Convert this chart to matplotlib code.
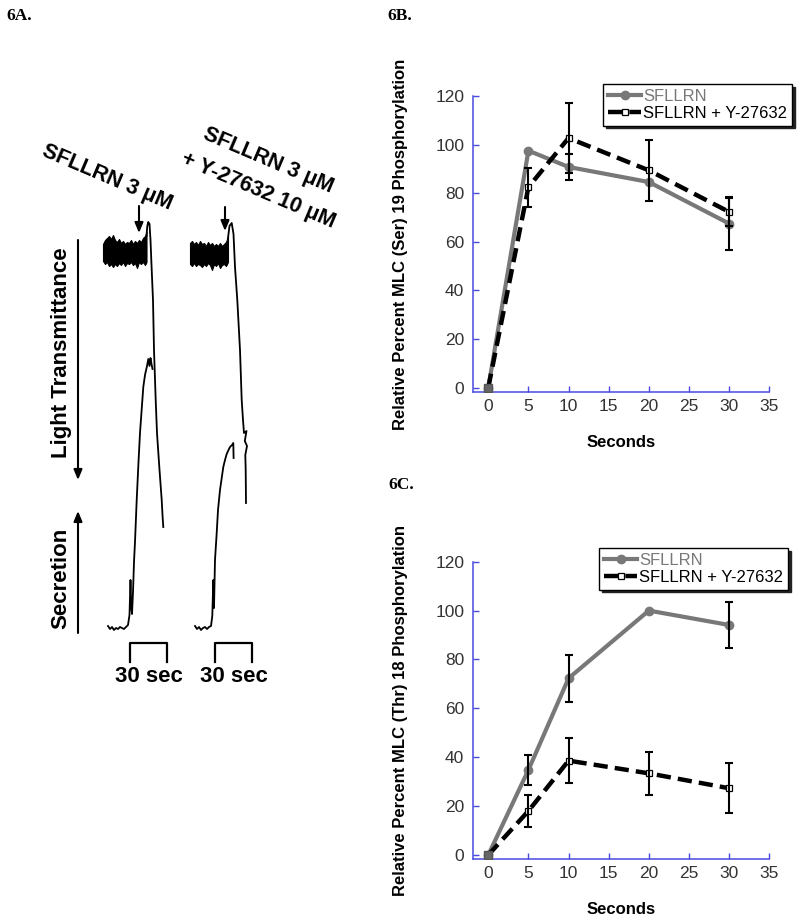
import matplotlib
matplotlib.use("Agg")
import matplotlib.pyplot as plt
import numpy as np

plt.rcParams['font.family'] = ['Liberation Sans', 'DejaVu Sans']

W, H = 800, 917

# ---- panel B / C data ----
seconds = [0, 5, 10, 20, 30]
ser_sfllrn = [0, 97.5, 90.8, 84.6, 67.5]
ser_sfllrn_err = [0, 0, 5.5, 0, 11]
ser_y27632 = [0, 82.5, 102.7, 89.4, 72.3]
ser_y27632_err = [0, 8, 14.3, 12.5, 5.6]

thr_sfllrn = [0, 34.8, 72.3, 100, 94.1]
thr_sfllrn_err = [0, 6, 9.7, 0, 9.3]
thr_y27632 = [0, 18, 38.6, 33.4, 27.3]
thr_y27632_err = [0, 6.7, 9.2, 8.8, 10.3]

x_ticks = [0, 5, 10, 15, 20, 25, 30, 35]
y_ticks = [0, 20, 40, 60, 80, 100, 120]

left_base_x = [103, 105, 107, 109, 111, 113, 115, 117, 119, 121, 123, 125, 127, 129,
               131, 133, 135, 137, 139, 141, 143, 145, 146.5]
left_base_top = [244, 240, 238, 236, 239, 235, 240, 242, 239, 243, 241, 244, 242, 243,
                 240, 244, 241, 243, 240, 242, 238, 236, 232]
left_base_bot = [261, 264, 262, 266, 264, 267, 264, 266, 263, 265, 262, 266, 263, 264,
                 262, 265, 263, 268, 262, 264, 262, 265, 262]
left_agg_x = [146.5, 147.3, 148.3, 149.5, 150.5, 151.5, 153, 154, 155.7, 157, 159.3,
              161.7, 162.5, 163.3]
left_agg_y = [236, 226, 222, 224, 240, 265, 300, 350, 400, 433, 467, 500, 515, 527]
left_sec_x = [108, 110, 112, 114, 116, 118, 120, 122, 124, 126, 128, 129.5, 130.5, 131.2,
              132, 133, 134, 135, 136.7, 138.5, 140, 142, 143.3, 145, 147, 148.3, 149.5,
              150.5, 151.5, 152.5]
left_sec_y = [626, 629, 627, 630, 628, 629, 627, 628, 629, 627, 625, 615, 580, 606,
              614, 592, 562, 542, 500, 462, 433, 405, 387, 375, 366, 359, 366, 358, 364, 369]

right_base_x = [190, 192, 194, 196, 198, 200, 202, 204, 206, 208, 210, 212, 214, 216,
                218, 220, 222, 224, 226, 228]
right_base_top = [243, 241, 244, 242, 245, 241, 244, 243, 246, 242, 245, 243, 246, 244,
                  246, 243, 246, 244, 242, 236]
right_base_bot = [264, 266, 263, 266, 264, 265, 267, 264, 266, 263, 265, 270, 264, 266,
                  263, 268, 265, 264, 266, 262]
right_agg_x = [228, 229.5, 231.7, 233.5, 235, 237.3, 240, 241.7, 243, 244, 246.5, 244.8,
               247, 245.3, 245.7, 246]
right_agg_y = [238, 226, 223, 234, 267, 300, 350, 400, 420, 433, 431, 441, 446, 455,
               470, 503]
right_sec_x = [195, 197, 199, 201, 203, 205, 207, 209, 211, 212.3, 213.3, 214, 215,
               216.7, 218, 220, 222, 223.3, 225, 226.7, 228.5, 230, 232, 233.3, 233.6]
right_sec_y = [626, 629, 627, 630, 628, 627, 629, 627, 626, 616, 580, 608, 560, 533,
               510, 490, 476, 467, 460, 454, 450, 447, 445, 443, 458]

fig = plt.figure(figsize=(W / 100, H / 100), dpi=100)


def fx(px):
    return px / W


def fy(py):
    return 1 - py / H


# ================= panel A =================
axA = fig.add_axes([0, 0, 0.5, 1])
axA.set_xlim(0, 400)
axA.set_ylim(H, 0)
axA.axis('off')

for bx, bt, bb in [(left_base_x, left_base_top, left_base_bot),
                   (right_base_x, right_base_top, right_base_bot)]:
    axA.fill_between(bx, bt, bb, color='black', lw=0.8, edgecolor='black')
for tx, ty in [(left_agg_x, left_agg_y), (left_sec_x, left_sec_y),
               (right_agg_x, right_agg_y), (right_sec_x, right_sec_y)]:
    axA.plot(tx, ty, color='black', lw=1.3, solid_joinstyle='round')

arrow = dict(arrowstyle='-|>,head_length=0.6,head_width=0.25', color='black', lw=1.5,
             shrinkA=0, shrinkB=0)
# agonist addition arrows
axA.annotate('', xy=(139, 233), xytext=(139, 206), arrowprops=arrow)
axA.annotate('', xy=(225, 231), xytext=(225, 207), arrowprops=arrow)
# direction arrows
axA.annotate('', xy=(78, 480), xytext=(78, 240), arrowprops=arrow)
axA.annotate('', xy=(78, 511), xytext=(78, 633), arrowprops=arrow)

axA.text(61, 353, 'Light Transmittance', rotation=90, ha='center', va='center',
         fontsize=16, fontweight='bold')
axA.text(61, 578, 'Secretion', rotation=90, ha='center', va='center',
         fontsize=16, fontweight='bold')

lab_kw = dict(rotation=-23, rotation_mode='anchor', ha='center', va='center',
              fontsize=15.5, fontweight='bold')
axA.text(107, 178, 'SFLLRN 3 μM', **lab_kw)
axA.text(268, 161, 'SFLLRN 3 μM', **lab_kw)
axA.text(258, 191, '+ Y-27632 10 μM', **lab_kw)

# 30 sec scale brackets
for x0, x1 in [(130, 167), (215, 252)]:
    axA.plot([x0, x0, x1, x1], [662, 643, 643, 662], color='black', lw=1.6)
    axA.text((x0 + x1) / 2, 676, '30 sec', ha='center', va='center',
             fontsize=16, fontweight='bold')

serif_kw = dict(fontsize=12.5, fontweight='bold', family='Liberation Serif',
                va='center', ha='left')
fig.text(fx(6), fy(16), '6A.', **serif_kw)
fig.text(fx(387), fy(16), '6B.', **serif_kw)
fig.text(fx(388), fy(485), '6C.', **serif_kw)

# ================= panels B and C =================
blue = '#4a4ae0'
gray = '#787878'


def panel(rect, y1, e1, y2, e2, ylabel, ybottom, legend_pos):
    ax = fig.add_axes(rect)
    ax.plot(seconds, y1, color=gray, lw=3, marker='o', ms=6, mfc=gray, mec=gray,
            solid_joinstyle='round', label='SFLLRN', zorder=3)
    ax.plot(seconds, y2, color='black', lw=3.2, dashes=(3.2, 1.6), marker='s', ms=4.5,
            mfc='white', mec='black', mew=0.9, label='SFLLRN + Y-27632', zorder=4)
    # origin point drawn as grey filled square, as in the source figure
    ax.plot(seconds[:1], y1[:1], ls='none', marker='s', ms=6, mfc='#666666',
            mec='#555555', zorder=6)
    for ys, es in [(y1, e1), (y2, e2)]:
        xs = np.array(seconds, dtype=float)
        ys = np.array(ys, dtype=float)
        es = np.array(es, dtype=float)
        m = es > 0
        ax.errorbar(xs[m], ys[m], yerr=es[m], fmt='none', ecolor='black',
                    elinewidth=1.5, capsize=3, capthick=1.5, zorder=5)
    ax.set_xlim(-1.94, 35)
    ax.set_ylim(ybottom, 120)
    ax.set_xticks(x_ticks)
    ax.set_yticks(y_ticks)
    for s in ['top', 'right']:
        ax.spines[s].set_visible(False)
    for s in ['left', 'bottom']:
        ax.spines[s].set_color(blue)
        ax.spines[s].set_linewidth(1.1)
    ax.tick_params(direction='in', length=4, width=1, color=blue, labelcolor='#333333',
                   labelsize=12.5)
    ax.tick_params(axis='y', pad=6)
    ax.tick_params(axis='x', pad=5)
    ax.set_ylabel(ylabel, fontsize=12, fontweight='bold')
    ax.yaxis.set_label_coords(-0.218, 0.5)
    ax.set_xlabel('Seconds', fontsize=12, fontweight='bold')
    ax.xaxis.set_label_coords(0.5, -0.145)
    ax.legend(loc='upper right', bbox_to_anchor=legend_pos, bbox_transform=fig.transFigure,
              borderaxespad=0, fontsize=12, frameon=True, fancybox=False,
              edgecolor='black', framealpha=1, shadow={'color': '#222222', 'alpha': 1},
              handlelength=2.0, handletextpad=0.1, labelspacing=0.1, borderpad=0.3,
              labelcolor=[gray, 'black'])
    ax.get_legend().get_frame().set_linewidth(1)
    return ax


panel([fx(472.7), fy(392), fx(296.6), (392 - 96) / H],
      ser_sfllrn, ser_sfllrn_err, ser_y27632, ser_y27632_err,
      'Relative Percent MLC (Ser) 19 Phosphorylation', -1.8,
      (fx(792), fy(84)))
panel([fx(472.7), fy(859), fx(296.6), (859 - 561.7) / H],
      thr_sfllrn, thr_sfllrn_err, thr_y27632, thr_y27632_err,
      'Relative Percent MLC (Thr) 18 Phosphorylation', -1.64,
      (fx(788), fy(548)))

fig.savefig('out.png', dpi=100)
